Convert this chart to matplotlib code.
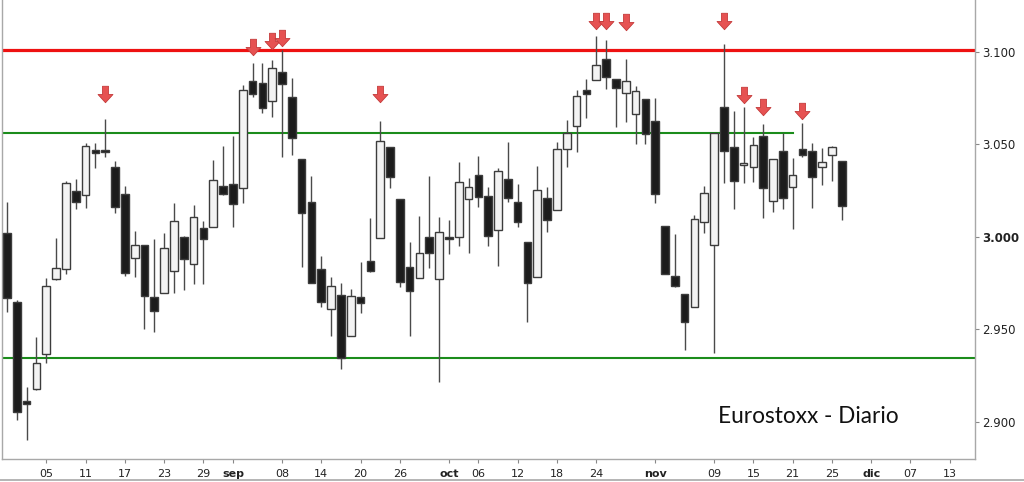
import matplotlib
matplotlib.use("Agg")
import matplotlib.pyplot as plt
from matplotlib.patches import Rectangle
from matplotlib.path import Path
import numpy as np

# ---- data (Eurostoxx daily, 1 Aug 2016 .. 28 Nov 2016, trading-day index) ----
opens = [3.0022, 2.9649, 2.9114, 2.9178, 2.9368, 2.9773, 2.9827, 3.0249, 3.0227, 3.0470,
         3.0470, 3.0378, 3.0232, 2.9886, 2.9957, 2.9676, 2.9697, 2.9816, 3.0000, 2.9854,
         3.0049, 3.0054, 3.0276, 3.0286, 3.0265, 3.0843, 3.0832, 3.0735, 3.0892, 3.0757,
         3.0422, 3.0189, 2.9827, 2.9611, 2.9686, 2.9465, 2.9676, 2.9870, 2.9995, 3.0486,
         3.0205, 2.9838, 2.9778, 3.0000, 2.9773, 3.0000, 3.0000, 3.0205, 3.0335, 3.0222,
         3.0038, 3.0314, 3.0189, 2.9973, 2.9784, 3.0211, 3.0146, 3.0476, 3.0600, 3.0795,
         3.0849, 3.0962, 3.0854, 3.0778, 3.0665, 3.0746, 3.0627, 3.0059, 2.9789, 2.9692,
         2.9622, 3.0081, 2.9957, 3.0703, 3.0486, 3.0389, 3.0378, 3.0546, 3.0195, 3.0465,
         3.0270, 3.0476, 3.0465, 3.0378, 3.0443, 3.0411]
highs = [3.0189, 2.9660, 2.9189, 2.9460, 2.9778, 2.9995, 3.0303, 3.0314, 3.0508, 3.0508,
         3.0638, 3.0411, 3.0276, 3.0032, 2.9957, 2.9989, 3.0022, 3.0184, 3.0005, 3.0173,
         3.0086, 3.0416, 3.0492, 3.0546, 3.0822, 3.0941, 3.0941, 3.0957, 3.1010, 3.0859,
         3.0422, 3.0330, 2.9897, 2.9784, 2.9751, 2.9719, 2.9865, 3.0103, 3.0627, 3.0486,
         3.0205, 2.9973, 3.0114, 3.0330, 3.0108, 3.0092, 3.0405, 3.0319, 3.0438, 3.0270,
         3.0373, 3.0514, 3.0286, 2.9973, 3.0384, 3.0270, 3.0514, 3.0632, 3.0795, 3.0854,
         3.1086, 3.1065, 3.0854, 3.0962, 3.0816, 3.0746, 3.0751, 3.0059, 3.0016, 2.9692,
         3.0119, 3.0276, 3.0562, 3.1043, 3.0681, 3.0703, 3.0541, 3.0611, 3.0422, 3.0562,
         3.0427, 3.0616, 3.0508, 3.0481, 3.0492, 3.0411]
lows = [2.9595, 2.9011, 2.8903, 2.9173, 2.9319, 2.9768, 2.9800, 3.0151, 3.0157, 3.0373,
        3.0432, 3.0130, 2.9789, 2.9784, 2.9503, 2.9486, 2.9697, 2.9697, 2.9714, 2.9746,
        2.9746, 3.0054, 3.0227, 3.0054, 3.0184, 3.0757, 3.0670, 3.0649, 3.0432, 3.0443,
        2.9838, 2.9751, 2.9622, 2.9465, 2.9286, 2.9465, 2.9589, 2.9811, 2.9995, 3.0265,
        2.9730, 2.9465, 2.9778, 2.9832, 2.9216, 2.9908, 2.9951, 2.9914, 3.0162, 2.9951,
        2.9843, 3.0189, 3.0054, 2.9541, 2.9784, 3.0027, 3.0146, 3.0378, 3.0459, 3.0643,
        3.0849, 3.0800, 3.0595, 3.0622, 3.0503, 3.0503, 3.0184, 2.9800, 2.9730, 2.9389,
        2.9622, 3.0022, 2.9373, 3.0292, 3.0151, 3.0292, 3.0297, 3.0103, 3.0135, 3.0151,
        3.0043, 3.0432, 3.0157, 3.0281, 3.0303, 3.0092]
closes = [2.9670, 2.9054, 2.9097, 2.9319, 2.9735, 2.9832, 3.0292, 3.0189, 3.0492, 3.0454,
          3.0460, 3.0162, 2.9805, 2.9957, 2.9681, 2.9600, 2.9941, 3.0086, 2.9881, 3.0108,
          2.9989, 3.0308, 3.0232, 3.0178, 3.0795, 3.0773, 3.0697, 3.0914, 3.0827, 3.0535,
          3.0130, 2.9751, 2.9649, 2.9735, 2.9346, 2.9681, 2.9643, 2.9816, 3.0519, 3.0324,
          2.9757, 2.9708, 2.9914, 2.9914, 3.0027, 2.9989, 3.0297, 3.0270, 3.0216, 3.0005,
          3.0357, 3.0211, 3.0081, 2.9751, 3.0254, 3.0092, 3.0476, 3.0562, 3.0762, 3.0773,
          3.0930, 3.0865, 3.0805, 3.0843, 3.0789, 3.0557, 3.0232, 2.9800, 2.9735, 2.9541,
          3.0097, 3.0238, 3.0562, 3.0465, 3.0303, 3.0400, 3.0497, 3.0265, 3.0422, 3.0211,
          3.0335, 3.0443, 3.0324, 3.0405, 3.0486, 3.0168]

# x-axis labels at trading-day indices
tick_idx = [4, 8, 12, 16, 20, 23, 28, 32, 36, 40, 45, 48, 52, 56, 60, 66, 72, 76, 80, 84, 88, 92, 96]
tick_labels = ["05", "11", "17", "23", "29", "sep", "08", "14", "20", "26", "oct", "06",
               "12", "18", "24", "nov", "09", "15", "21", "25", "dic", "07", "13"]
month_labels = {"sep", "oct", "nov", "dic"}

y_ticks = [2.900, 2.950, 3.000, 3.050, 3.100]
y_tick_labels = ["2.900", "2.950", "3.000", "3.050", "3.100"]

# horizontal levels
resistance = 3.101
upper_support = 3.056
upper_support_end = 80
lower_support = 2.9346

# signal arrows (candle index, arrow centre value)
arrow_idx = [10, 25, 27, 28, 38, 60, 61, 63, 73, 75, 77, 81]
arrow_val = [3.0773, 3.1027, 3.1059, 3.1076, 3.0773, 3.1168, 3.1168, 3.1162, 3.1168,
             3.0768, 3.0703, 3.0681]

title_text = "Eurostoxx - Diario"

# ---- figure ----
W, H = 1024, 482
fig = plt.figure(figsize=(W / 100, H / 100), dpi=100)
fig.patch.set_facecolor("white")
ax = fig.add_axes([2 / W, 23 / H, 973 / W, 459 / H])
ax.set_facecolor("white")

ax.set_xlim(-0.51, 98.57)
ax.set_ylim(2.880, 3.1281)

# levels
ax.axhline(resistance, color="#ee1111", lw=2.3, zorder=1)
ax.axhline(lower_support, color="#1b8c1b", lw=1.5, zorder=1)
ax.plot([-0.51, upper_support_end], [upper_support, upper_support], color="#1b8c1b", lw=1.5, zorder=1)

# candles
bw = 0.78
for i, (o, h, l, c) in enumerate(zip(opens, highs, lows, closes)):
    up = c >= o
    ax.vlines(i, l, h, color="#4a4a4a", lw=1.0, zorder=2)
    bottom = min(o, c)
    height = max(abs(c - o), 0.0012)
    if up:
        fc, ec = "#f3f3f3", "#3c3c3c"
    else:
        fc, ec = "#1c1c1c", "#3c3c3c"
    ax.add_patch(Rectangle((i - bw / 2, bottom), bw, height, facecolor=fc, edgecolor=ec,
                           lw=1.0, zorder=3))

# arrows
verts = [(-0.2, 0.55), (0.2, 0.55), (0.2, 0.0), (0.5, 0.0), (0.0, -0.55), (-0.5, 0.0),
         (-0.2, 0.0), (-0.2, 0.55)]
codes = [Path.MOVETO] + [Path.LINETO] * 6 + [Path.CLOSEPOLY]
arrow_marker = Path(verts, codes)
ax.scatter(arrow_idx, arrow_val, marker=arrow_marker, s=140, facecolor="#e65252",
           edgecolor="#c43a3a", linewidths=0.6, zorder=5)

# axes styling
ax.spines["top"].set_visible(False)
for side in ["left", "right", "bottom"]:
    ax.spines[side].set_color("#a8a8a8")
    ax.spines[side].set_linewidth(1.0)

ax.yaxis.tick_right()
ax.set_yticks(y_ticks)
ax.set_yticklabels(y_tick_labels)
ax.tick_params(axis="y", direction="out", length=3, width=0.8, color="#888888",
               labelsize=8.5, labelcolor="#222222", pad=2)
for lab in ax.get_yticklabels():
    if lab.get_text() == "3.000":
        lab.set_fontweight("bold")

ax.set_xticks(tick_idx)
ax.set_xticklabels(tick_labels)
ax.tick_params(axis="x", direction="out", length=3, width=0.8, color="#888888",
               labelsize=8, labelcolor="#222222", pad=4)
for lab in ax.get_xticklabels():
    if lab.get_text() in month_labels:
        lab.set_fontweight("bold")

ax.text(0.736, 0.093, title_text, transform=ax.transAxes, fontsize=16.3,
        family="Lato", color="#111111", ha="left", va="center")

# outer frame bottom line
fig.add_artist(plt.Line2D([0, 1], [2.5 / H, 2.5 / H], transform=fig.transFigure,
                          color="#a8a8a8", lw=1.2))

fig.savefig("out.png", dpi=100)
